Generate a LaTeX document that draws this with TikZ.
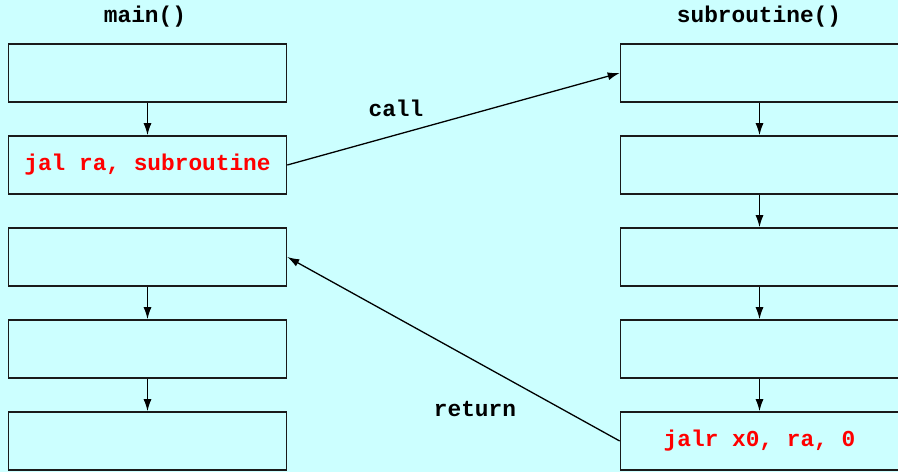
\documentclass[tikz,border=0pt]{standalone}
\usepackage{fontspec}
\setmonofont{Liberation Mono}
\usetikzlibrary{arrows.meta}
\definecolor{bgcyan}{HTML}{CCFFFF}
\definecolor{codered}{HTML}{FF0000}
\definecolor{edge}{HTML}{1A1A1A}
\begin{document}
\begin{tikzpicture}[x=1pt,y=-1pt,
  codebox/.style={draw=edge,line width=1.6pt,fill=bgcyan,rectangle,
    minimum width=278pt,minimum height=58pt,inner sep=0pt},
  codetext/.style={font=\fontsize{22.8}{24}\ttfamily\bfseries},
  flow/.style={draw=black,line width=1.3pt,-{Latex[length=12pt,width=8pt]}}]
  % canvas
  \fill[bgcyan] (0,0) rectangle (898,472);
  \useasboundingbox (0,0) rectangle (898,472);
  % column titles
  \node[codetext] (tmain) at (145,17) {main()};
  \node[codetext] (tsub) at (759,17) {subroutine()};
  % main() column
  \node[codebox] (m1) at (147.5,73) {};
  \node[codebox,codetext,text=codered] (m2) at (147.5,165) {jal ra, subroutine};
  \node[codebox] (m3) at (147.5,257) {};
  \node[codebox] (m4) at (147.5,349) {};
  \node[codebox] (m5) at (147.5,441) {};
  % subroutine() column
  \node[codebox] (s1) at (759.5,73) {};
  \node[codebox] (s2) at (759.5,165) {};
  \node[codebox] (s3) at (759.5,257) {};
  \node[codebox] (s4) at (759.5,349) {};
  \node[codebox,codetext,text=codered] (s5) at (759.5,441) {jalr x0, ra, 0};
  % sequential flow
  \draw[flow] (m1.south) -- (m2.north);
  \draw[flow] (m3.south) -- (m4.north);
  \draw[flow] (m4.south) -- (m5.north);
  \draw[flow] (s1.south) -- (s2.north);
  \draw[flow] (s2.south) -- (s3.north);
  \draw[flow] (s3.south) -- (s4.north);
  \draw[flow] (s4.south) -- (s5.north);
  % call and return
  \draw[flow] (m2.east) -- (s1.west);
  \draw[flow] (s5.west) -- (m3.east);
  \node[codetext] (lcall) at (396,108) {call};
  \node[codetext] (lret) at (475,409) {return};
\end{tikzpicture}
\end{document}
